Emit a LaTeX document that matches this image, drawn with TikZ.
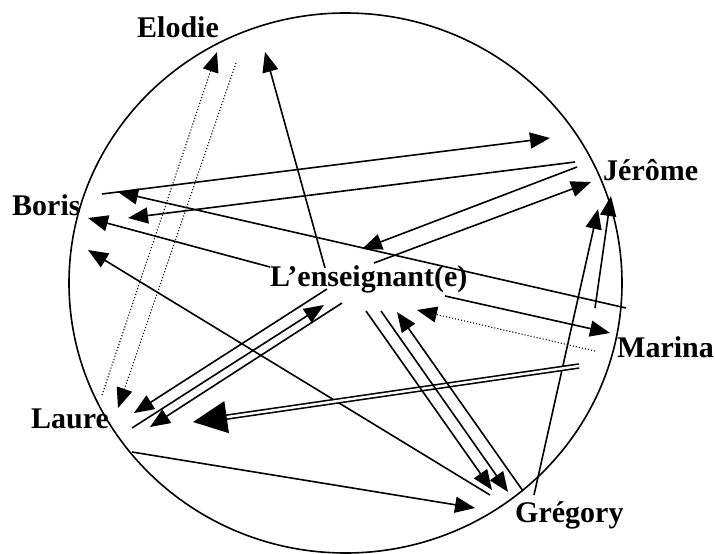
\documentclass[tikz,border=0pt]{standalone}
\usepackage{fontspec}
\setmainfont{Liberation Serif}
\usetikzlibrary{arrows.meta}
\tikzset{
  person/.style={inner sep=0pt, anchor=base west, font=\fontsize{30}{35}\selectfont\bfseries},
  link/.style={line width=1.6pt, -{Triangle[length=20pt,width=16pt]}},
  dotlink/.style={line width=1.1pt, dotted, -{Triangle[length=20pt,width=16pt]}},
  biglink/.style={line width=1.6pt, double, double distance=2.4pt, -{Triangle[length=34pt,width=32pt]}}
}
\begin{document}
\begin{tikzpicture}[x=1pt, y=-1pt]
\useasboundingbox (0,0) rectangle (715,554);

% the group
\draw[line width=1.6pt] (345.5,283) ellipse [x radius=276.5, y radius=270];

% names
\node[person] (elodie) at (137,37) {Elodie};
\node[person] (boris)  at (12,215) {Boris};
\node[person] (jerome) at (603,180) {Jérôme};
\node[person] (ens)    at (270,286) {L’enseignant(e)};
\node[person] (marina) at (617,357) {Marina};
\node[person] (laure)  at (31,428) {Laure};
\node[person] (gregory) at (515,522) {Grégory};

% end points of the exchanges
\coordinate (lauEl1) at (102,395);  \coordinate (elo1) at (217,52);
\coordinate (elo2) at (236,63);     \coordinate (lauEl2) at (118,408);
\coordinate (ensEl) at (325,268);   \coordinate (elo3) at (265,52);
\coordinate (boJe) at (102,194);    \coordinate (jeBo) at (550,138);
\coordinate (maBo) at (626,308);    \coordinate (boMa) at (118,192);
\coordinate (jeBo2) at (575,162);   \coordinate (boJe2) at (128,218);
\coordinate (ensBo) at (270,267);   \coordinate (boEns) at (88,218);
\coordinate (grBo) at (490,495);    \coordinate (boGr) at (88,250);
\coordinate (jeEns) at (577,167);   \coordinate (ensJe) at (362,249);
\coordinate (ensJe2) at (374,263);  \coordinate (jeEns2) at (591,182);
\coordinate (maJe) at (595,308);    \coordinate (jeMa) at (611,196);
\coordinate (grJe) at (534,495);    \coordinate (jeGr) at (598,209);
\coordinate (ensMa) at (445,296);   \coordinate (maEns) at (610,333);
\coordinate (maEns2) at (595,351);  \coordinate (ensMa2) at (417,310);
\coordinate (maLa) at (579,366);    \coordinate (laMa) at (193,422);
\coordinate (laGr) at (132,452);    \coordinate (grLa) at (475,508);
\coordinate (ensGrA) at (366,311);  \coordinate (grEnsA) at (492,490);
\coordinate (ensGrB) at (381,311);  \coordinate (grEnsB) at (508,492);
\coordinate (grEnsC) at (523,491);  \coordinate (ensGrC) at (397,312);
\coordinate (ensLaA) at (327,289);  \coordinate (laEnsA) at (134,413);
\coordinate (laEnsB) at (132,428);  \coordinate (ensLaB) at (324,305);
\coordinate (ensLaC) at (342,303);  \coordinate (laEnsC) at (150,427);

% Elodie
\draw[dotlink] (lauEl1) -- (elo1);
\draw[dotlink] (elo2) -- (lauEl2);
\draw[link] (ensEl) -- (elo3);

% Boris
\draw[link] (boJe) -- (jeBo);
\draw[link] (maBo) -- (boMa);
\draw[link] (jeBo2) -- (boJe2);
\draw[link] (ensBo) -- (boEns);
\draw[link] (grBo) -- (boGr);

% Jérôme
\draw[link] (jeEns) -- (ensJe);
\draw[link] (ensJe2) -- (jeEns2);
\draw[link] (maJe) -- (jeMa);
\draw[link] (grJe) -- (jeGr);

% Marina
\draw[link] (ensMa) -- (maEns);
\draw[dotlink] (maEns2) -- (ensMa2);
\draw[biglink] (maLa) -- (laMa);

% Grégory
\draw[link] (laGr) -- (grLa);
\draw[link] (ensGrA) -- (grEnsA);
\draw[link] (ensGrB) -- (grEnsB);
\draw[link] (grEnsC) -- (ensGrC);

% Laure
\draw[link] (ensLaA) -- (laEnsA);
\draw[link] (laEnsB) -- (ensLaB);
\draw[link] (ensLaC) -- (laEnsC);
\end{tikzpicture}
\end{document}
